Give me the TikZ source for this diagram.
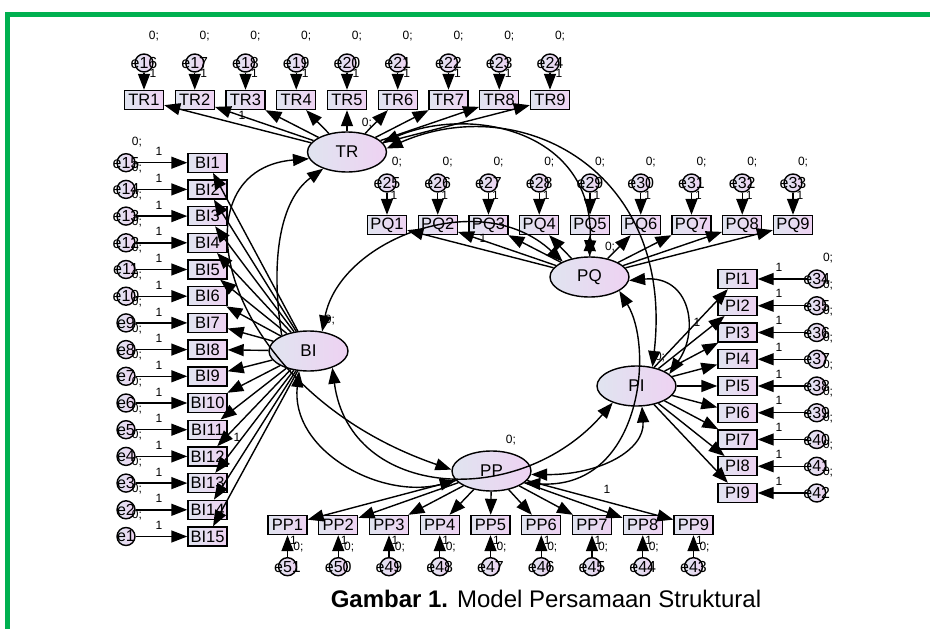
\documentclass[tikz,border=0pt]{standalone}
\usepackage{fontspec}
\setmainfont{Liberation Sans}
\usetikzlibrary{arrows.meta,shapes.geometric}
\definecolor{frameGreen}{RGB}{0,176,80}
\definecolor{shadeL}{RGB}{224,228,240}
\definecolor{shadeR}{RGB}{238,210,242}
\tikzset{
  obs/.style={draw, line width=1.4pt, minimum width=39pt, minimum height=19pt, inner sep=0pt,
    left color=shadeL, right color=shadeR, font=\fontsize{16.5}{16.5}\selectfont},
  lat/.style={ellipse, draw, line width=1.4pt, minimum width=79pt, minimum height=40pt, inner sep=0pt,
    left color=shadeL, right color=shadeR, font=\fontsize{17}{17}\selectfont},
  errc/.style={circle, draw, line width=1.4pt, minimum size=18pt, inner sep=0pt,
    left color=shadeL, right color=shadeR},
  etxt/.style={font=\fontsize{16}{16}\selectfont, inner sep=0pt},
  lbl/.style={font=\fontsize{12}{12}\selectfont, inner sep=0pt},
  tip/.tip={Triangle[length=16pt,width=12pt]},
  arr/.style={line width=1.4pt, -tip},
  arrtwo/.style={line width=1.4pt, tip-tip},
}
\begin{document}
\begin{tikzpicture}[x=1pt,y=-1pt]
\useasboundingbox (0,0) rectangle (930,629);
% frame
\draw[frameGreen, line width=5pt] (930,14.5) -- (7,14.5) -- (7,629);

% latent variables
\node[lat] (TR) at (347,152) {TR};
\node[lat] (PQ) at (589.5,277) {PQ};
\node[lat] (BI) at (308.5,351) {BI};
\node[lat] (PI) at (636.5,386) {PI};
\node[lat] (PP) at (491.5,471) {PP};

% TR indicators
\foreach \i [evaluate=\i as \x using 144+50.75*(\i-1), evaluate=\i as \e using int(15+\i)] in {1,...,9} {
  \node[obs] (TR\i) at (\x,100) {TR\i};
  \node[errc] (e\e) at (\x,63) {};
  \node[etxt] at (e\e) {e\e};
  \node[lbl] at (\x+10,36) {0;};
}
% PQ indicators
\foreach \i [evaluate=\i as \x using 387+50.75*(\i-1), evaluate=\i as \e using int(24+\i)] in {1,...,9} {
  \node[obs] (PQ\i) at (\x,225) {PQ\i};
  \node[errc] (e\e) at (\x,183) {};
  \node[etxt] at (e\e) {e\e};
  \node[lbl] at (\x+10,162) {0;};
}
% BI indicators
\foreach \i [evaluate=\i as \y using 162.7+26.7*(\i-1), evaluate=\i as \e using int(16-\i)] in {1,...,15} {
  \node[obs] (BI\i) at (207.5,\y) {BI\i};
  \node[errc] (e\e) at (126,\y) {};
  \node[etxt] at (e\e) {e\e};
  \node[lbl] at (137,\y-21) {0;};
}
% PI indicators
\foreach \i [evaluate=\i as \y using 279+26.75*(\i-1), evaluate=\i as \e using int(33+\i)] in {1,...,9} {
  \node[obs] (PI\i) at (737.5,\y) {PI\i};
  \node[errc] (e\e) at (816.7,\y) {};
  \node[etxt] at (e\e) {e\e};
  \node[lbl] at (828,\y-21) {0;};
}
% PP indicators
\foreach \i [evaluate=\i as \x using 287.5+50.75*(\i-1), evaluate=\i as \e using int(52-\i)] in {1,...,9} {
  \node[obs] (PP\i) at (\x,525) {PP\i};
  \node[errc] (e\e) at (\x,566.7) {};
  \node[etxt] at (e\e) {e\e};
  \node[lbl] at (\x+11,547) {0;};
}

% latent variances
\node[lbl] at (367,123) {0;};
\node[lbl] at (610,247) {0;};
\node[lbl] at (511,440) {0;};
\node[lbl] at (330,320) {0;};
\node[lbl] at (660,357) {0;};

% measurement paths
\foreach \i [evaluate=\i as \e using int(15+\i), evaluate=\i as \x using 144+50.75*(\i-1)] in {1,...,9} {
  \draw[arr] (TR) -- (TR\i);
  \draw[arr] (e\e) -- (TR\i);
  \node[lbl] at (\x+9,73) {1};
}
\foreach \i [evaluate=\i as \e using int(24+\i), evaluate=\i as \x using 387+50.75*(\i-1)] in {1,...,9} {
  \draw[arr] (PQ) -- (PQ\i);
  \draw[arr] (e\e) -- (PQ\i);
  \node[lbl] at (\x+7,195) {1};
}
\foreach \i [evaluate=\i as \e using int(16-\i), evaluate=\i as \y using 162.7+26.7*(\i-1)] in {1,...,15} {
  \draw[arr] (BI) -- (BI\i);
  \draw[arr] (e\e) -- (BI\i);
  \node[lbl] at (159,\y-11) {1};
}
\foreach \i [evaluate=\i as \e using int(33+\i), evaluate=\i as \y using 279+26.75*(\i-1)] in {1,...,9} {
  \draw[arr] (PI) -- (PI\i);
  \draw[arr] (e\e) -- (PI\i);
  \node[lbl] at (779,\y-12) {1};
}
\foreach \i [evaluate=\i as \e using int(52-\i), evaluate=\i as \x using 287.5+50.75*(\i-1)] in {1,...,9} {
  \draw[arr] (PP) -- (PP\i);
  \draw[arr] (e\e) -- (PP\i);
  \node[lbl] at (\x+6,540) {1};
}

% fixed loadings
\node[lbl] at (242,115) {1};
\node[lbl] at (483,238) {1};
\node[lbl] at (237,437) {1};
\node[lbl] at (697,322) {1};
\node[lbl] at (607,489) {1};

% covariances between latent variables
\draw[arrtwo] (TR.15) .. controls (470,105) and (595,130) .. (PQ.north);
\draw[arrtwo] (TR.5) .. controls (520,90) and (675,170) .. (PI.50);
\draw[arr] (BI.150) .. controls (270,260) and (280,200) .. (TR.215);
\draw[arrtwo] (TR.190) .. controls (170,170) and (220,390) .. (PP.178);
\draw[arrtwo] (PQ.150) .. controls (480,185) and (340,240) .. (BI.55);
\draw[arrtwo] (BI.-35) .. controls (350,500) and (520,510) .. (PI.215);
\draw[arrtwo] (BI.245) .. controls (290,450) and (380,500) .. (PP.195);
\draw[arrtwo] (PI.20) .. controls (700,330) and (690,275) .. (PQ.-5);
\draw[arrtwo] (PI.-75) .. controls (645,450) and (600,475) .. (PP.-5);
\draw[arrtwo] (PQ.-25) .. controls (655,350) and (640,490) .. (PP.-20);

% caption
\node[font=\fontsize{24}{24}\selectfont, anchor=base, inner sep=0pt] (cap) at (546,607)
  {\textbf{Gambar 1.} Model Persamaan Struktural};
\end{tikzpicture}
\end{document}
